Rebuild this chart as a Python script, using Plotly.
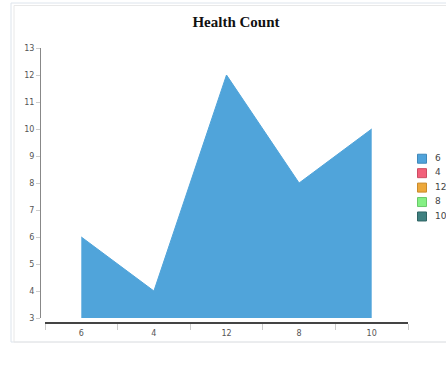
import plotly.graph_objects as go

# ---- data ----
categories = ["6", "4", "12", "8", "10"]
values = [6, 4, 12, 8, 10]
legend_labels = ["6", "4", "12", "8", "10"]
y_ticks = list(range(3, 14))

# ---- styles ----
AREA_COLOR = "#50a4da"
LEGEND_COLORS = ["#4fa3db", "#f2607a", "#eda83a", "#84f084", "#3f8080"]
LEGEND_BORDERS = ["#3f88ba", "#cc4c62", "#c98a2c", "#6ac86a", "#2f6464"]
LEGEND_TEXT_OFFSET = 13

W, H = 446, 381
ML, MR, MT, MB = 40, 0, 48, 58
PW = W - ML - MR
PH = H - MT - MB


def px_x(p):
    return (p - ML) / PW


def px_y(p):
    return (H - MB - p) / PH


fig = go.Figure()

fig.add_trace(go.Scatter(
    x=categories, y=values, mode="lines", fill="tozeroy",
    fillcolor=AREA_COLOR, line=dict(color=AREA_COLOR, width=1),
    showlegend=False, hoverinfo="skip", xaxis="x", yaxis="y",
))

# legend drawn as a small subplot: swatches, then their labels
fig.add_trace(go.Scatter(
    x=[0] * len(legend_labels), y=legend_labels, mode="markers",
    marker=dict(symbol="square", size=9, color=LEGEND_COLORS,
                line=dict(color=LEGEND_BORDERS, width=1)),
    showlegend=False, hoverinfo="skip", xaxis="x2", yaxis="y2",
    cliponaxis=False,
))
fig.add_trace(go.Scatter(
    x=[LEGEND_TEXT_OFFSET] * len(legend_labels), y=legend_labels, mode="text",
    text=legend_labels, textposition="middle right",
    textfont=dict(family="DejaVu Sans", size=9, color="#444"),
    showlegend=False, hoverinfo="skip", xaxis="x2", yaxis="y2",
    cliponaxis=False,
))

tick_font = dict(family="DejaVu Sans", size=8, color="#555")

fig.update_layout(
    width=W, height=H,
    margin=dict(l=ML, r=MR, t=MT, b=MB),
    paper_bgcolor="white", plot_bgcolor="white",
    title=dict(text="Health Count", x=236 / W, xref="container", xanchor="center",
               y=1 - 22 / H, yref="container", yanchor="middle",
               font=dict(family="Liberation Serif", size=15, color="#111", weight="bold")),
    xaxis=dict(
        type="category", categoryorder="array", categoryarray=categories,
        range=[-0.5, len(categories) - 0.5],
        domain=[px_x(45), px_x(408)], anchor="free", position=0,
        showline=True, linecolor="#444", linewidth=1.5,
        ticks="outside", tickson="boundaries", ticklen=6, tickcolor="#ccc",
        ticklabelstandoff=3,
        showgrid=False, zeroline=False, tickfont=tick_font,
    ),
    yaxis=dict(
        range=[3, 13], tickvals=y_ticks,
        domain=[px_y(318), px_y(48)], anchor="free", position=0,
        showline=True, linecolor="#888", linewidth=1,
        ticks="outside", ticklen=4, tickcolor="#ccc",
        showgrid=False, zeroline=False, tickfont=tick_font,
    ),
    xaxis2=dict(domain=[px_x(412), 1], range=[-10, 24], anchor="y2",
                visible=False, fixedrange=True),
    yaxis2=dict(type="category", categoryorder="array", categoryarray=legend_labels,
                range=[len(legend_labels) - 0.5, -0.5],
                domain=[px_y(223.7), px_y(151.5)], anchor="x2",
                visible=False, fixedrange=True),
    shapes=[
        dict(type="rect", xref="paper", yref="paper",
             x0=px_x(11), x1=px_x(520), y0=px_y(342), y1=px_y(3),
             line=dict(color="#dde4ec", width=1), layer="below"),
        dict(type="rect", xref="paper", yref="paper",
             x0=px_x(14), x1=px_x(520), y0=px_y(342), y1=px_y(5.5),
             line=dict(color="#e8e8e8", width=1), layer="below"),
    ],
    showlegend=False,
)

fig.write_html(
    "out.html",
    config={"displayModeBar": False},
    post_script="document.body.style.margin='0px';document.body.style.padding='0px';",
)
